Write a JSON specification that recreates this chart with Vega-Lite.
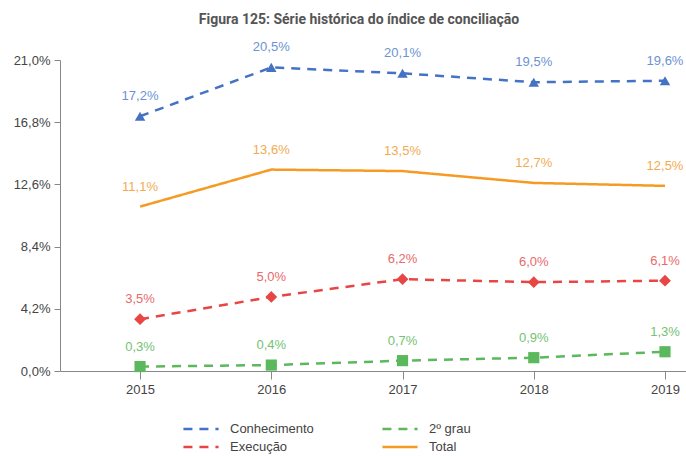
{
  "$schema": "https://vega.github.io/schema/vega-lite/v6.json",
  "width": 626,
  "height": 311,
  "autosize": {"type": "none"},
  "padding": {"left": 60, "top": 60, "right": 0, "bottom": 85},
  "background": "white",
  "config": {
    "locale": {"number": {"decimal": ",", "thousands": ".", "grouping": [3], "currency": ["", ""]}},
    "view": {"stroke": null},
    "font": "Liberation Sans"
  },
  "title": {
    "text": "Figura 125: Série histórica do índice de conciliação",
    "font": "Roboto",
    "fontWeight": "bold",
    "fontSize": 14,
    "color": "#555555",
    "anchor": "middle",
    "dx": -14,
    "offset": 14
  },
  "data": {
    "values": [
      {"year": 2015, "serie": "Conhecimento", "value": 0.172},
      {"year": 2016, "serie": "Conhecimento", "value": 0.205},
      {"year": 2017, "serie": "Conhecimento", "value": 0.201},
      {"year": 2018, "serie": "Conhecimento", "value": 0.195},
      {"year": 2019, "serie": "Conhecimento", "value": 0.196},
      {"year": 2015, "serie": "Total", "value": 0.111},
      {"year": 2016, "serie": "Total", "value": 0.136},
      {"year": 2017, "serie": "Total", "value": 0.135},
      {"year": 2018, "serie": "Total", "value": 0.127},
      {"year": 2019, "serie": "Total", "value": 0.125},
      {"year": 2015, "serie": "Execução", "value": 0.035},
      {"year": 2016, "serie": "Execução", "value": 0.050},
      {"year": 2017, "serie": "Execução", "value": 0.062},
      {"year": 2018, "serie": "Execução", "value": 0.060},
      {"year": 2019, "serie": "Execução", "value": 0.061},
      {"year": 2015, "serie": "2º grau", "value": 0.003},
      {"year": 2016, "serie": "2º grau", "value": 0.004},
      {"year": 2017, "serie": "2º grau", "value": 0.007},
      {"year": 2018, "serie": "2º grau", "value": 0.009},
      {"year": 2019, "serie": "2º grau", "value": 0.013}
    ]
  },
  "encoding": {
    "x": {
      "field": "year", "type": "quantitative",
      "scale": {"domain": [2014.39, 2019.16], "nice": false, "zero": false},
      "axis": {
        "title": null, "values": [2015, 2016, 2017, 2018, 2019], "format": "d",
        "grid": false, "domainColor": "#888888", "tickColor": "#888888", "tickSize": 8,
        "labelFontSize": 13, "labelColor": "#444444", "labelPadding": 4
      }
    },
    "y": {
      "field": "value", "type": "quantitative",
      "scale": {"domain": [0, 0.21], "nice": false},
      "axis": {
        "title": null, "values": [0, 0.042, 0.084, 0.126, 0.168, 0.21], "format": ".1%",
        "grid": false, "domainColor": "#888888", "tickColor": "#888888", "tickSize": 6,
        "labelFontSize": 13, "labelColor": "#444444", "labelPadding": 4
      }
    }
  },
  "layer": [
    {
      "mark": {"type": "line", "strokeWidth": 2.5},
      "encoding": {
        "color": {
          "field": "serie", "type": "nominal",
          "scale": {"domain": ["Conhecimento", "2º grau", "Execução", "Total"], "range": ["#4472C4", "#5CB85C", "#E84545", "#F59A23"]},
          "legend": {
            "title": null, "orient": "none", "legendX": 130, "legendY": 358, "direction": "horizontal",
            "columns": 2, "columnPadding": 63, "rowPadding": 0,
            "symbolType": "M-1.85,0H1.85", "symbolSize": 361, "symbolStrokeWidth": 2.5,
            "symbolFillColor": "transparent",
            "labelFontSize": 13, "labelColor": "#444444", "labelOffset": 18
          }
        },
        "strokeDash": {
          "field": "serie", "type": "nominal",
          "scale": {"domain": ["Conhecimento", "2º grau", "Execução", "Total"], "range": [[9, 7], [9, 7], [9, 7], [1, 0]]},
          "legend": null
        }
      }
    },
    {
      "transform": [{"filter": "datum.serie != 'Total'"}],
      "mark": {"type": "point", "filled": true, "opacity": 1},
      "encoding": {
        "color": {"field": "serie", "type": "nominal", "legend": null},
        "shape": {
          "field": "serie", "type": "nominal",
          "scale": {"domain": ["Conhecimento", "2º grau", "Execução"], "range": ["triangle-up", "square", "diamond"]},
          "legend": null
        },
        "size": {
          "field": "serie", "type": "nominal",
          "scale": {"domain": ["Conhecimento", "2º grau", "Execução"], "range": [110, 140, 55]},
          "legend": null
        }
      }
    },
    {
      "mark": {"type": "text", "dy": -20, "fontSize": 13},
      "encoding": {
        "text": {"field": "value", "type": "quantitative", "format": ".1%"},
        "fill": {
          "field": "serie", "type": "nominal",
          "scale": {"domain": ["Conhecimento", "2º grau", "Execução", "Total"], "range": ["#6B93D3", "#74C274", "#E86A6A", "#F2AB52"]},
          "legend": null
        }
      }
    }
  ]
}
